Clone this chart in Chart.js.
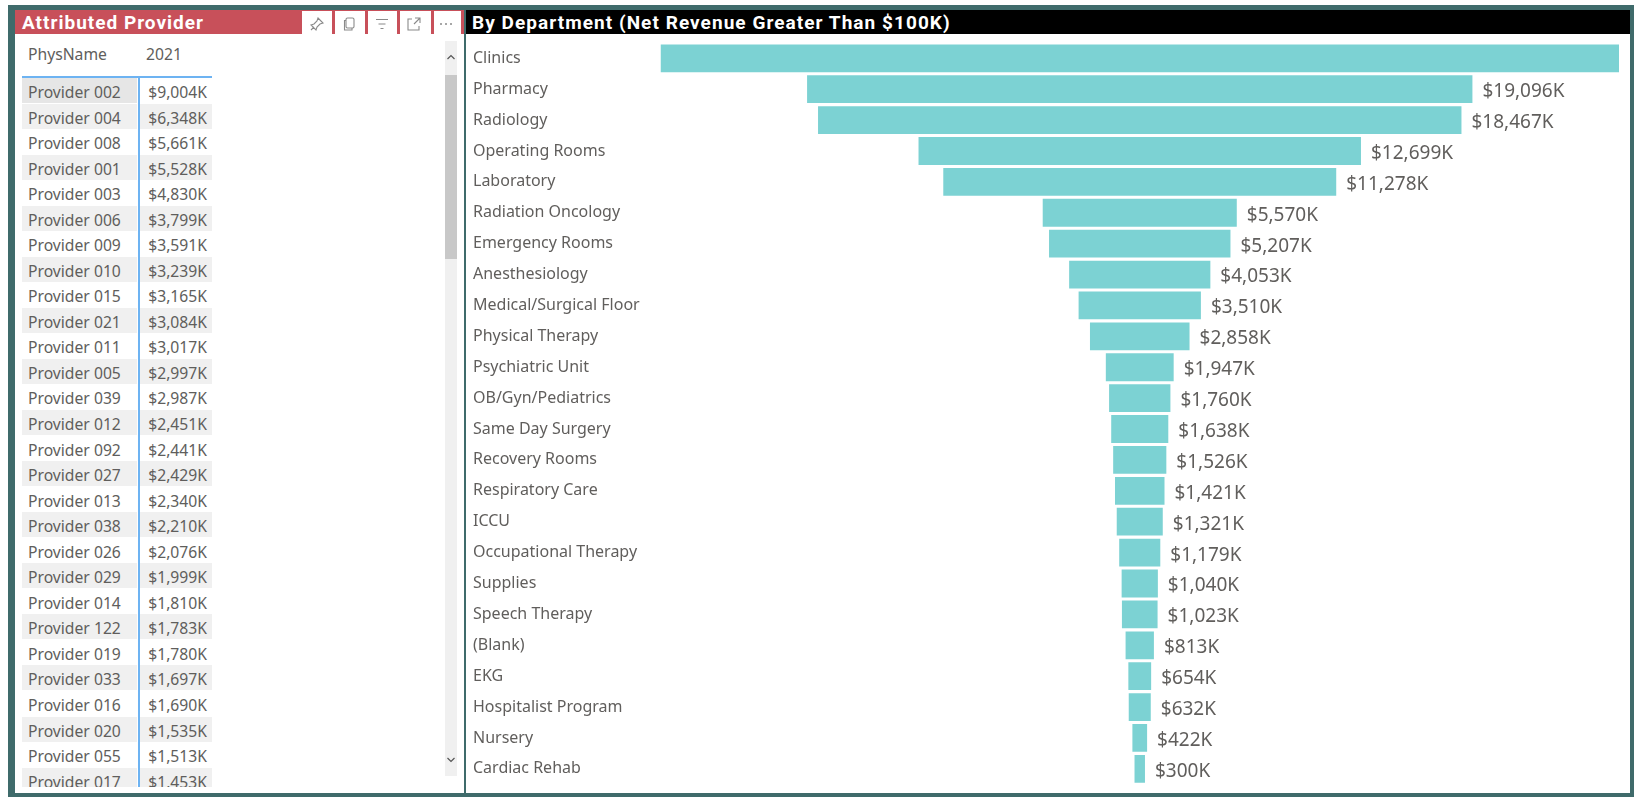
<!DOCTYPE html>
<html>
<head>
<meta charset="utf-8">
<title>Net Revenue Dashboard</title>
<script src="https://cdn.jsdelivr.net/npm/chart.js@4"></script>
<style>
  html, body { margin: 0; padding: 0; background: #fff; overflow: hidden; }
  body { width: 1634px; height: 797px; position: relative; font-family: "Noto Sans", sans-serif; color: #605E5C; }
  .abs { position: absolute; }
  #frame { left: 8px; top: 5px; width: 1626px; height: 792px; background: #3F6B6B; }
  #leftPanel { left: 15px; top: 10px; width: 449px; height: 783px; background: #fff; overflow: hidden; }
  #rightPanel { left: 466px; top: 10px; width: 1164px; height: 783px; background: #fff; }
  #leftHead { left: 0; top: 0; width: 287px; height: 24px; background: #C8505A; color: #fff;
    font: 700 19px/25px Roboto, sans-serif; letter-spacing: 1px; text-indent: 7px; }
  #rightHead { left: 0; top: 0; width: 1164px; height: 24px; background: #000; color: #fff;
    font: 700 19px/25px Roboto, sans-serif; letter-spacing: 1.05px; text-indent: 6px; white-space: nowrap; }
  .sep { top: 0; width: 3px; height: 24px; background: #C8505A; }
  #topBar { left: 287px; top: 0; width: 162px; height: 1px; background: #C8505A; }
  .icon { top: 6px; width: 16px; height: 16px; }
  .hcell { top: 34px; font-size: 15.7px; line-height: 20px; }
  #rows { left: 7px; top: 67px; width: 190px; height: 710px; overflow: hidden; }
  .row { position: absolute; left: 0; width: 190px; height: 25.5px; font-size: 15.7px; line-height: 29px; white-space: nowrap; }
  .name { position: absolute; left: 0; top: 0; width: 115px; height: 25px; padding-left: 6px; box-sizing: border-box; }
  .val { position: absolute; left: 118px; top: 0; width: 72px; height: 25px; padding-right: 5px; box-sizing: border-box; text-align: right; }
  .band .name, .band .val { background: #F0F0F0; }
  .sel .name { background: #E6E6E6; }
  #hLine { left: 7px; top: 66px; width: 190px; height: 2px; background: #6DB3F2; }
  #vLine { left: 123px; top: 67px; width: 2px; height: 710px; background: #6DB3F2; }
  #track { left: 430px; top: 31px; width: 12px; height: 735px; background: #F0F0F0; }
  #thumb { left: 430px; top: 65px; width: 12px; height: 184px; background: #C8C8C8; }
  #chartBox { left: 0; top: 24px; width: 1164px; height: 759px; }
</style>
</head>
<body>
<div class="abs" id="frame"></div>

<div class="abs" id="leftPanel">
  <div class="abs" id="topBar"></div>
  <div class="abs" id="leftHead">Attributed Provider</div>
  <div class="abs sep" style="left:317px"></div>
  <div class="abs sep" style="left:350px"></div>
  <div class="abs sep" style="left:382px"></div>
  <div class="abs sep" style="left:416px"></div>
  <div class="abs sep" style="left:446px"></div>
  <svg class="abs icon" style="left:294px" viewBox="0 0 16 16" fill="none" stroke="#8a8a8a" stroke-width="1.1">
    <path d="M9 2l5 5-3 1-3 3-1 3-5-5 3-1 3-3zM5 11l-3 3"/></svg>
  <svg class="abs icon" style="left:326px" viewBox="0 0 16 16" fill="none" stroke="#8a8a8a" stroke-width="1.1">
    <rect x="5" y="2" width="8" height="10" rx="1.5"/><path d="M5 4.5H3.5V14H11v-2"/></svg>
  <svg class="abs icon" style="left:359px" viewBox="0 0 16 16" fill="none" stroke="#8a8a8a" stroke-width="1.1">
    <path d="M2 3.5h12M4.5 8h7M6.5 12.5h3"/></svg>
  <svg class="abs icon" style="left:391px" viewBox="0 0 16 16" fill="none" stroke="#8a8a8a" stroke-width="1.1">
    <path d="M9 2h5v5M14 2L8 8M6 3H2v11h11v-4"/></svg>
  <svg class="abs icon" style="left:423px" viewBox="0 0 16 16" fill="#8a8a8a">
    <circle cx="3" cy="8" r="1"/><circle cx="8" cy="8" r="1"/><circle cx="13" cy="8" r="1"/></svg>

  <div class="abs hcell" style="left:13px">PhysName</div>
  <div class="abs hcell" style="left:131px">2021</div>
  <div class="abs" id="rows"></div>
  <div class="abs" id="hLine"></div>
  <div class="abs" id="vLine"></div>

  <div class="abs" id="track"></div>
  <div class="abs" id="thumb"></div>
  <svg class="abs" style="left:430px;top:41px" width="12" height="12" viewBox="0 0 12 12" fill="none" stroke="#555" stroke-width="1.2">
    <path d="M2.5 8L6 4.5 9.5 8"/></svg>
  <svg class="abs" style="left:430px;top:744px" width="12" height="12" viewBox="0 0 12 12" fill="none" stroke="#555" stroke-width="1.2">
    <path d="M2.5 4L6 7.5 9.5 4"/></svg>
</div>

<div class="abs" id="rightPanel">
  <div class="abs" id="rightHead">By Department (Net Revenue Greater Than $100K)</div>
  <div class="abs" id="chartBox"><canvas id="funnel"></canvas></div>
</div>

<script>
// Provider table
const providerNames = ["Provider 002","Provider 004","Provider 008","Provider 001","Provider 003","Provider 006","Provider 009",
  "Provider 010","Provider 015","Provider 021","Provider 011","Provider 005","Provider 039","Provider 012","Provider 092",
  "Provider 027","Provider 013","Provider 038","Provider 026","Provider 029","Provider 014","Provider 122","Provider 019",
  "Provider 033","Provider 016","Provider 020","Provider 055","Provider 017"];
const providerRevenue = [9004,6348,5661,5528,4830,3799,3591,3239,3165,3084,3017,2997,2987,2451,2441,2429,2340,2210,2076,1999,
  1810,1783,1780,1697,1690,1535,1513,1453];

// Department funnel
const departments = ["Clinics","Pharmacy","Radiology","Operating Rooms","Laboratory","Radiation Oncology","Emergency Rooms",
  "Anesthesiology","Medical/Surgical Floor","Physical Therapy","Psychiatric Unit","OB/Gyn/Pediatrics","Same Day Surgery",
  "Recovery Rooms","Respiratory Care","ICCU","Occupational Therapy","Supplies","Speech Therapy","(Blank)","EKG",
  "Hospitalist Program","Nursery","Cardiac Rehab"];
const departmentRevenue = [27510,19096,18467,12699,11278,5570,5207,4053,3510,2858,1947,1760,1638,1526,1421,1321,1179,1040,1023,
  813,654,632,422,300];

const money = v => "$" + v.toLocaleString("en-US") + "K";

const rowsEl = document.getElementById("rows");
providerNames.forEach((name, i) => {
  const row = document.createElement("div");
  row.className = "row" + (i % 2 ? " band" : "") + (i === 0 ? " sel" : "");
  row.style.top = (i * 25.54 + 1) + "px";
  const n = document.createElement("div"); n.className = "name"; n.textContent = name;
  const v = document.createElement("div"); v.className = "val"; v.textContent = money(providerRevenue[i]);
  row.append(n, v);
  rowsEl.appendChild(row);
});

// Writes the revenue beside each bar, skipping any label that would run off the canvas
const barValueLabels = {
  id: "barValueLabels",
  afterDatasetsDraw(chart) {
    const ctx = chart.ctx;
    ctx.save();
    ctx.font = '19px "Noto Sans"';
    ctx.fillStyle = "#605E5C";
    ctx.textAlign = "left";
    ctx.textBaseline = "middle";
    chart.getDatasetMeta(0).data.forEach((bar, i) => {
      const text = money(departmentRevenue[i]);
      const x = bar.x + 10;
      if (x + ctx.measureText(text).width <= chart.width) ctx.fillText(text, x, bar.y + 2.5);
    });
    ctx.restore();
  }
};

const span = Math.max(...departmentRevenue);
new Chart(document.getElementById("funnel"), {
  type: "bar",
  plugins: [barValueLabels],
  data: {
    labels: departments,
    datasets: [{
      data: departmentRevenue.map(v => [-v / 2, v / 2]),
      backgroundColor: "#7CD2D3",
      barPercentage: 0.9,
      categoryPercentage: 1
    }]
  },
  options: {
    indexAxis: "y",
    responsive: true,
    maintainAspectRatio: false,
    animation: false,
    layout: { padding: { left: 7, right: 11, top: 8.85, bottom: 8.7 } },
    plugins: { legend: { display: false }, tooltip: { enabled: false } },
    scales: {
      x: { display: false, min: -span / 2, max: span / 2 },
      y: {
        grid: { display: false },
        border: { display: false },
        ticks: { crossAlign: "far", autoSkip: false, padding: 0, color: "#605E5C", font: { family: '"Noto Sans"', size: 16 } },
        afterFit(scale) {
          // Fixed label column; the half-line margin the axis asks for would otherwise override the chart padding
          scale.width = 187.5;
          scale.paddingTop = 0;
          scale.paddingBottom = 0;
        }
      }
    }
  }
});
</script>
</body>
</html>
